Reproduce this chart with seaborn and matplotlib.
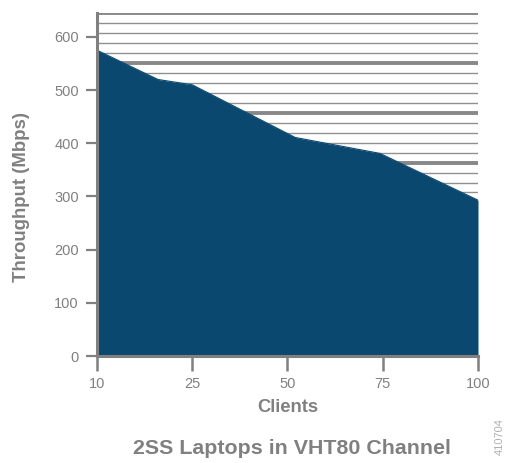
import numpy as np
import matplotlib
matplotlib.use("Agg")
import matplotlib.pyplot as plt
import pandas as pd
import seaborn as sns

# data (x given as position along the category axis)
client_labels = ["10", "25", "50", "75", "100"]
x_pos = [0, 0.64, 1, 2.08, 2.97, 4]
throughput = [575, 520, 510, 411, 381, 293]

y_max = 645
grid_step = 18.75

AREA = "#0b4870"
GREY = "#808080"

sns.set_style("white")
plt.rcParams["font.family"] = ["Liberation Sans", "DejaVu Sans"]

df = pd.DataFrame({"pos": x_pos, "Throughput (Mbps)": throughput})

fig = plt.figure(figsize=(5.06, 4.63), dpi=100)
ax = fig.add_axes([97 / 506, 1 - 356 / 463, (478 - 97) / 506, (356 - 13) / 463])

# background ruling: thin every step, heavy every fifth line
grid_vals = np.arange(y_max, 0, -grid_step)
for i, gv in enumerate(grid_vals):
    heavy = i % 5 == 0
    ax.axhline(gv, color="#888888" if heavy else "#909090", lw=2.8 if heavy else 1.0, zorder=0)

ax.fill_between(df["pos"], 0, df["Throughput (Mbps)"], color=AREA, lw=0, zorder=2)
sns.lineplot(data=df, x="pos", y="Throughput (Mbps)", color=AREA, lw=0.8, ax=ax, zorder=3)

ax.set_xlim(0, 4)
ax.set_ylim(0, y_max)
ax.set_xticks(range(len(client_labels)))
ax.set_xticklabels(client_labels)
ax.set_yticks(range(0, 601, 100))

for side in ["top", "right"]:
    ax.spines[side].set_visible(False)
for side in ["left", "bottom"]:
    ax.spines[side].set_color(GREY)
    ax.spines[side].set_linewidth(2.2)
    ax.spines[side].set_zorder(4)

ax.tick_params(axis="y", length=8, width=1.6, color=GREY, labelcolor=GREY,
               labelsize=10.5, pad=5, direction="out", left=True)
ax.tick_params(axis="x", length=11, width=1.8, color=GREY, labelcolor=GREY,
               labelsize=10.5, pad=4, direction="out", bottom=True)

ax.set_xlabel("Clients", fontsize=13.2, fontweight="bold", color=GREY, labelpad=6)
ax.set_ylabel("Throughput (Mbps)", fontsize=13.4, fontweight="bold", color=GREY)
ax.yaxis.set_label_coords(-0.176, 0.464)

fig.text(292 / 506, 1 - 449 / 463, "2SS Laptops in VHT80 Channel", ha="center", va="center",
         fontsize=15.4, fontweight="bold", color=GREY)
fig.text(500 / 506, 1 - 455 / 463, "410704", rotation=90, ha="center", va="bottom",
         fontsize=8, color="#b0b0b0")

fig.savefig("out.png", dpi=100)
